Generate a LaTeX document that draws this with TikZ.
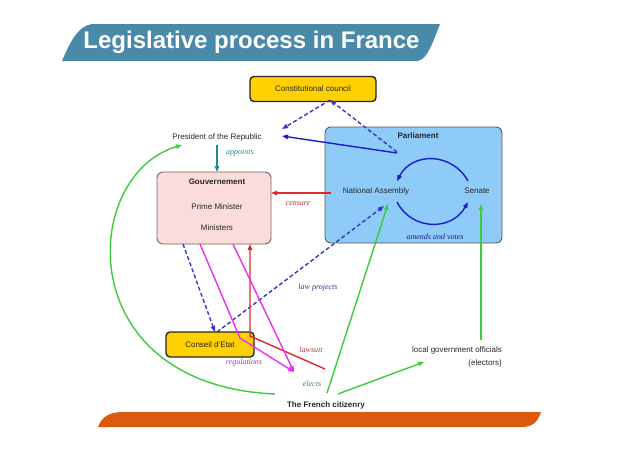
\documentclass[tikz,border=0pt]{standalone}
\usepackage{fontspec}
\setmainfont{Liberation Serif}
\setsansfont{Liberation Sans}
\usetikzlibrary{arrows.meta}
\definecolor{bannerblue}{HTML}{4A8AA9}
\definecolor{barorange}{HTML}{DA5A0E}
\definecolor{parlblue}{HTML}{8FCBF8}
\definecolor{govpink}{HTML}{FBDCDB}
\definecolor{boxgold}{HTML}{FFD100}
\definecolor{darkblue}{HTML}{1C1CC8}
\definecolor{dashblue}{HTML}{3535C8}
\definecolor{tealc}{HTML}{1E8C8C}
\definecolor{redc}{HTML}{E02828}
\definecolor{censc}{HTML}{A83838}
\definecolor{magc}{HTML}{EE30EE}
\definecolor{regc}{HTML}{9A38C8}
\definecolor{greenc}{HTML}{3CCC3C}
\definecolor{electc}{HTML}{3A8A5A}
\definecolor{lawc}{HTML}{3838A8}
\definecolor{amendc}{HTML}{1C1C80}
\tikzset{
  lbl/.style={font=\sffamily\fontsize{8}{9}\selectfont, inner sep=0pt, text=black!85},
  blbl/.style={font=\sffamily\bfseries\fontsize{8}{9}\selectfont, inner sep=0pt, text=black!85},
  ilbl/.style={font=\itshape\fontsize{8}{9}\selectfont, inner sep=0pt},
  goldbox/.style={draw=black!85, line width=1.4pt, fill=boxgold, rounded corners=4pt, inner sep=0pt},
  conn/.style={line width=1.4pt, -{Triangle[length=6pt,width=4.5pt]}},
  dconn/.style={conn, dashed, dash pattern=on 4pt off 2.5pt}
}
\begin{document}
\begin{tikzpicture}[x=1pt,y=-1pt]
\useasboundingbox (0,0) rectangle (638,451);
\fill[white] (0,0) rectangle (638,451);
% title banner
\fill[bannerblue] (62,61) .. controls (70,42) and (78,26) .. (92,24) -- (440,24)
  .. controls (432,44) and (428,58) .. (418,61) -- cycle;
\node[font=\sffamily\bfseries\fontsize{24}{26}\selectfont, text=white, inner sep=0pt] (title) at (251.5,42) {Legislative process in France};
% bottom bar
\fill[barorange] (98,427) .. controls (102,416) and (110,412) .. (124,412) -- (541,412)
  .. controls (538,422) and (532,427) .. (522,427) -- cycle;

% boxes
\node[goldbox, minimum width=126pt, minimum height=25pt] (const) at (313,89) {};
\node[lbl] (constt) at (313,89) {Constitutional council};
\node[lbl] (pres) at (217,137) {President of the Republic};
\node[draw=black!65, line width=0.9pt, fill=parlblue, rounded corners=6pt, minimum width=177pt, minimum height=116pt, inner sep=0pt] (parl) at (413.5,185) {};
\node[blbl] (parlt) at (418,136) {Parliament};
\node[lbl] (na) at (376,191) {National Assembly};
\node[lbl] (sen) at (477,191) {Senate};
\node[ilbl, text=amendc] (amends) at (435,237) {amends and votes};
\node[draw=black!60, line width=0.9pt, fill=govpink, rounded corners=6pt, minimum width=114pt, minimum height=72pt, inner sep=0pt] (gouv) at (214,208) {};
\node[blbl] (gouvt) at (217,182) {Gouvernement};
\node[lbl] (pm) at (217,207) {Prime Minister};
\node[lbl] (min) at (217,228) {Ministers};
\node[goldbox, minimum width=88pt, minimum height=25pt] (conseil) at (210,344.5) {};
\node[lbl] (conseilt) at (210,345) {Conseil d'Etat};
\node[lbl, anchor=east] (local) at (502,350) {local government officials};
\node[lbl, anchor=east] (electors) at (502,363) {(electors)};
\node[blbl] (citizen) at (326,405) {The French citizenry};

% labels
\node[ilbl, text=tealc] (appoints) at (240,153) {appoints};
\node[ilbl, text=censc] (censure) at (298,204) {censure};
\node[ilbl, text=lawc] (lawproj) at (318,288) {law projects};
\node[ilbl, text=censc] (lawsuit) at (311,350) {lawsuit};
\node[ilbl, text=regc] (regs) at (244,363) {regulations};
\node[ilbl, text=electc] (elects) at (312,384) {elects};

% coordinates
\coordinate (cc) at (330,100);
\coordinate (presR) at (282,129);
\coordinate (presR2) at (282,136);
\coordinate (parlP) at (397,152);
\coordinate (parlP2) at (397,153);
\coordinate (presS) at (217,145);
\coordinate (gouvN) at (217,172);
\coordinate (naW) at (331,193);
\coordinate (gouvE) at (271,193);
\coordinate (arcA) at (468,181);
\coordinate (arcB) at (397,181);
\coordinate (arcC) at (397,202);
\coordinate (arcD) at (468,202);
\coordinate (gouvS1) at (183,244);
\coordinate (conseilN) at (215,332);
\coordinate (conseilN2) at (217,332);
\coordinate (naS) at (384,206);
\coordinate (lawA) at (325,369);
\coordinate (conseilNE) at (250,336);
\coordinate (gouvS4) at (250,244);
\coordinate (gouvS2) at (200,244);
\coordinate (gouvS3) at (233,244);
\coordinate (regK) at (240,338);
\coordinate (regE) at (294,372);
\coordinate (citW) at (275,394);
\coordinate (presW) at (182,145);
\coordinate (citN1) at (327,393);
\coordinate (naS2) at (388,204);
\coordinate (citN2) at (338,394);
\coordinate (localW) at (424,362);
\coordinate (localN) at (481,340);
\coordinate (senS) at (481,204);

% connectors
\draw[dconn, dashblue] (cc) -- (presR);
\draw[dconn, dashblue] (parlP) -- (cc);
\draw[conn, darkblue] (parlP2) -- (presR2);
\draw[conn, tealc] (presS) -- (gouvN);
\draw[conn, redc] (naW) -- (gouvE);
\draw[conn, darkblue] (arcA) .. controls (452,152) and (412,152) .. (arcB);
\draw[conn, darkblue] (arcC) .. controls (412,231) and (452,231) .. (arcD);
\draw[dconn, dashblue] (gouvS1) -- (conseilN);
\draw[dconn, dashblue] (conseilN2) -- (naS);
\draw[conn, redc] (lawA) -- (conseilNE) -- (gouvS4);
\draw[conn, magc] (gouvS2) -- (regK) -- (regE);
\draw[conn, magc] (gouvS3) -- (regE);
\draw[conn, greenc] (citW) .. controls (70,385) and (80,175) .. (presW);
\draw[conn, greenc] (citN1) -- (naS2);
\draw[conn, greenc] (citN2) -- (localW);
\draw[conn, greenc] (localN) -- (senS);
\end{tikzpicture}
\end{document}
